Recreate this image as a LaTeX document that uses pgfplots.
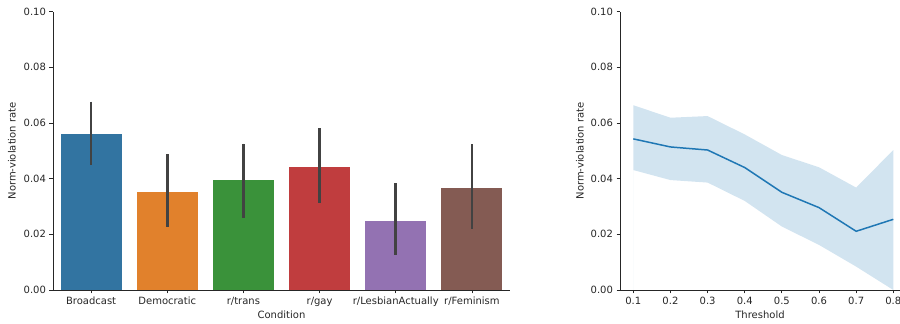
\documentclass[border=0pt]{standalone}
\usepackage{fontspec}
\setmainfont{DejaVu Sans}
\usepackage{pgfplots}
\pgfplotsset{compat=1.18}
\definecolor{cB}{HTML}{3274A1}
\definecolor{cD}{HTML}{E1812C}
\definecolor{cT}{HTML}{3A923A}
\definecolor{cG}{HTML}{C03D3E}
\definecolor{cL}{HTML}{9372B2}
\definecolor{cF}{HTML}{845B53}
\definecolor{errc}{HTML}{424242}
\definecolor{linec}{HTML}{1F77B4}
\definecolor{txt}{HTML}{262626}
\begin{document}
\begin{tikzpicture}
\path[use as bounding box] (0pt,0pt) rectangle (900pt,324pt);
\pgfplotsset{
  base/.style={
    scale only axis, height=278.3pt,
    ymin=0, ymax=0.1, ytick={0,0.02,0.04,0.06,0.08,0.1},
    scaled y ticks=false,
    axis x line*=bottom, axis y line*=left,
    axis line style={txt, line width=0.8pt},
    tick align=outside, major tick length=3.5pt,
    tick style={txt, line width=0.8pt},
    font=\fontsize{10}{12}\selectfont,
    ticklabel style={txt, font=\fontsize{10}{12}\selectfont},
    yticklabel style={/pgf/number format/.cd, fixed, fixed zerofill, precision=2, assume math mode=true},
    every axis x label/.style={at={(axis description cs:0.5,0)}, anchor=center, yshift=-25pt, text=txt},
    ylabel={Norm-violation rate},
  },
  bb/.style={ybar, bar width=60.9pt, bar shift=0pt, draw=none, fill=#1,
    error bars/.cd, y dir=both, y explicit, error mark=none,
    error bar style={draw=errc, line width=2.7pt}},
}
\begin{axis}[base, at={(53pt,34pt)}, anchor=south west, width=457pt,
  xmin=-0.5, xmax=5.5, xtick={0,1,2,3,4,5},
  xticklabels={Broadcast,Democratic,r/trans,r/gay,r/LesbianActually,r/Feminism},
  every axis y label/.style={at={(axis description cs:-0.0897,0.5)}, rotate=90, anchor=center, text=txt},
  xlabel={Condition}]
\addplot[bb=cB] coordinates {(0,0.0559) += (0,0.0118) -= (0,0.0110)};
\addplot[bb=cD] coordinates {(1,0.0351) += (0,0.0138) -= (0,0.0126)};
\addplot[bb=cT] coordinates {(2,0.0394) += (0,0.0132) -= (0,0.0134)};
\addplot[bb=cG] coordinates {(3,0.0443) += (0,0.0138) -= (0,0.0132)};
\addplot[bb=cL] coordinates {(4,0.0248) += (0,0.0135) -= (0,0.0122)};
\addplot[bb=cF] coordinates {(5,0.0365) += (0,0.0158) -= (0,0.0147)};
\end{axis}
\begin{axis}[base, at={(620pt,34pt)}, anchor=south west, width=280pt,
  xmin=0.0642, xmax=0.818, xtick={0.1,0.2,0.3,0.4,0.5,0.6,0.7,0.8},
  xticklabel style={/pgf/number format/.cd, fixed, fixed zerofill, precision=1, assume math mode=true},
  every axis y label/.style={at={(axis description cs:-0.1429,0.5)}, rotate=90, anchor=center, text=txt},
  xlabel={Threshold}]
% confidence band: upper bound left to right, then lower bound right to left
\addplot[fill=linec, fill opacity=0.2, draw=none] coordinates {
(0.1,0.0664) (0.2,0.0619) (0.3,0.0625) (0.4,0.0559) (0.5,0.0485) (0.6,0.0441) (0.7,0.0368) (0.8,0.0503)
(0.8,0.0000) (0.7,0.0084) (0.6,0.0162) (0.5,0.0228) (0.4,0.0320) (0.3,0.0386) (0.2,0.0395) (0.1,0.0431)} \closedcycle;
\addplot[linec, line width=1.5pt, mark=none] coordinates {
(0.1,0.0543) (0.2,0.0514) (0.3,0.0503) (0.4,0.0440) (0.5,0.0351) (0.6,0.0296) (0.7,0.0211) (0.8,0.0254)};
\end{axis}
\end{tikzpicture}
\end{document}
